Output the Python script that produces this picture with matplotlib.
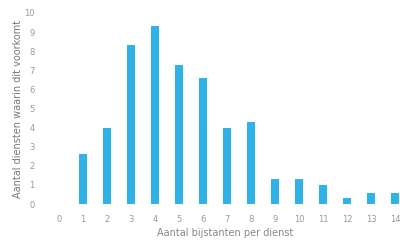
import matplotlib
matplotlib.use("Agg")
import matplotlib.pyplot as plt

categories = list(range(0, 15))
values = [0, 2.6, 4.0, 8.3, 9.3, 7.3, 6.6, 4.0, 4.3, 1.3, 1.3, 1.0, 0.3, 0.6, 0.6]
yticks = list(range(0, 11))

bar_color = "#2eb2e8"
text_color = "#9a9a9a"

fig = plt.figure(figsize=(4.0, 2.41), dpi=100)
ax = fig.add_axes([50/400, 37/241, 350/400, 191/241])
ax.bar(categories, values, width=0.3, color=bar_color)
ax.set_xlim(-0.375, 14.21)
ax.set_ylim(0, 10)
ax.set_xticks(categories)
ax.set_yticks(yticks)
ax.tick_params(length=0, labelsize=6, colors=text_color, pad=8)
ax.tick_params(axis="y", pad=11)
for s in ax.spines.values():
    s.set_visible(False)
ax.set_ylabel("Aantal diensten waarin dit voorkomt", fontsize=7, color="#777777", labelpad=1)
ax.set_xlabel("Aantal bijstanten per dienst", fontsize=7, color="#888888", labelpad=3)
fig.savefig("out.png", dpi=100)
